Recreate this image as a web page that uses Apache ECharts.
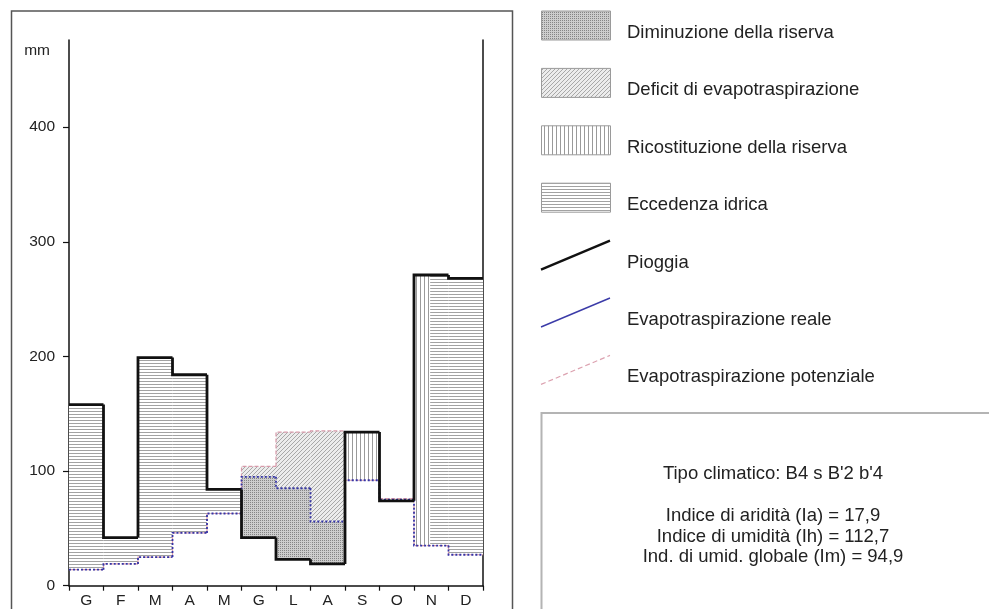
<!DOCTYPE html>
<html>
<head>
<meta charset="utf-8">
<script src="https://cdn.jsdelivr.net/npm/echarts@6/dist/echarts.min.js"></script>
<style>
  html, body { margin: 0; padding: 0; background: #fff; }
  #chart { width: 989px; height: 609px; }
</style>
</head>
<body>
<div id="chart"></div>
<script>
// Bilancio idrico mensile (mm)
const months = ['G', 'F', 'M', 'A', 'M', 'G', 'L', 'A', 'S', 'O', 'N', 'D'];
const pioggia = [158, 42, 199, 184, 84, 42, 23, 19, 134, 74, 271, 268];
const evapReale = [14, 19, 25, 46, 63, 95, 85, 56, 92, 75, 35, 27];
const evapPotenziale = [14, 19, 25, 46, 63, 104, 134, 135, 92, 76, 35, 27];
const ricostituzione = [0, 0, 0, 0, 0, 0, 0, 0, 42, 0, 110, 0];
const yTicks = [0, 100, 200, 300, 400];

const legendAree = ['Diminuzione della riserva', 'Deficit di evapotraspirazione',
                    'Ricostituzione della riserva', 'Eccedenza idrica'];
const legendLinee = ['Pioggia', 'Evapotraspirazione reale', 'Evapotraspirazione potenziale'];
const tipoClimatico = "Tipo climatico: B4 s B'2 b'4";
const indici = ['Indice di aridità (Ia) = 17,9',
                'Indice di umidità (Ih) = 112,7',
                'Ind. di umid. globale (Im) = 94,9'];

const FONT = '"Liberation Sans", Arial, sans-serif';
const TXT = '18.5px ' + FONT;

// hatch tiles
function tile(w, h, draw) {
  const c = document.createElement('canvas');
  c.width = w; c.height = h;
  draw(c.getContext('2d'));
  return { image: c, repeat: 'repeat' };
}
const patDiminuzione = tile(2, 2, g => {
  g.fillStyle = '#cdcdcd'; g.fillRect(0, 0, 2, 2);
  g.fillStyle = '#858585'; g.fillRect(0, 0, 1, 1);
});
const patDeficit = tile(4, 4, g => {
  g.fillStyle = '#ececec'; g.fillRect(0, 0, 4, 4);
  g.fillStyle = '#a8a8a8';
  g.fillRect(0, 3, 1, 1); g.fillRect(1, 2, 1, 1); g.fillRect(2, 1, 1, 1); g.fillRect(3, 0, 1, 1);
});
const patRicostituzione = tile(4, 4, g => {
  g.fillStyle = '#ffffff'; g.fillRect(0, 0, 4, 4);
  g.fillStyle = '#9a9a9a'; g.fillRect(0, 0, 1, 4);
});
const patEccedenza = tile(4, 3, g => {
  g.fillStyle = '#ffffff'; g.fillRect(0, 0, 4, 3);
  g.fillStyle = '#a2a2a2'; g.fillRect(0, 0, 4, 1);
});

// band items: [monthIndex, low, high, fractionStart, fractionEnd]
const bandDiminuzione = [], bandDeficit = [], bandRicostituzione = [], bandEccedenza = [];
months.forEach((m, i) => {
  const p = pioggia[i], er = evapReale[i], ep = evapPotenziale[i];
  if (er > p) bandDiminuzione.push([i, p, er, 0, 1]);
  if (ep > er) bandDeficit.push([i, er, ep, 0, 1]);
  if (p > er) {
    const f = Math.min(1, ricostituzione[i] / (p - er));
    if (f > 0) bandRicostituzione.push([i, er, p, 0, f]);
    if (f < 1) bandEccedenza.push([i, er, p, f, 1]);
  }
});

function bandRender(fill) {
  return function (params, api) {
    const i = api.value(0);
    const bw = api.size([1, 0])[0];
    const lo = api.coord([i, api.value(1)]);
    const hi = api.coord([i, api.value(2)]);
    const left = lo[0] - bw / 2;
    return {
      type: 'rect',
      shape: { x: left + bw * api.value(3), y: hi[1],
               width: bw * (api.value(4) - api.value(3)), height: lo[1] - hi[1] },
      style: { fill: fill }
    };
  };
}

function stepRender(values, style) {
  return function (params, api) {
    const i = api.value(0);
    const bw = api.size([1, 0])[0];
    const p = api.coord([i, api.value(1)]);
    const left = p[0] - bw / 2, right = p[0] + bw / 2;
    const pts = [];
    if (i > 0) pts.push([left, api.coord([i, values[i - 1]])[1]]);
    pts.push([left, p[1]], [right, p[1]]);
    return { type: 'polyline', shape: { points: pts }, style: Object.assign({ fill: null }, style) };
  };
}

function bandSeries(name, data, fill) {
  return { type: 'custom', name: name, data: data, renderItem: bandRender(fill),
           encode: { x: 0, y: [1, 2] }, silent: true };
}
function stepSeries(name, values, style) {
  return { type: 'custom', name: name, data: values.map((v, i) => [i, v]),
           renderItem: stepRender(values, style), encode: { x: 0, y: 1 }, silent: true };
}

// legend and index box
const graphics = [];
graphics.push({ type: 'rect', shape: { x: 11.5, y: 11, width: 501, height: 620 },
                style: { fill: null, stroke: '#555', lineWidth: 1.5 }, z: 10 });
const areaFills = [patDiminuzione, patDeficit, patRicostituzione, patEccedenza];
const rowY = k => 33 + 57.4 * k;
legendAree.forEach((t, k) => {
  graphics.push({ type: 'rect', shape: { x: 541.5, y: rowY(k) - 22, width: 69, height: 29 },
                  style: { fill: areaFills[k], stroke: '#9a9a9a', lineWidth: 1 } });
  graphics.push({ type: 'text', x: 627, y: rowY(k),
                  style: { text: t, fill: '#222', font: TXT, textVerticalAlign: 'middle' } });
});
const lineStyles = [
  { stroke: '#111', lineWidth: 2.4 },
  { stroke: '#3b3ba8', lineWidth: 1.4 },
  { stroke: '#dca2b0', lineWidth: 1.2, lineDash: [5, 3] }
];
legendLinee.forEach((t, k) => {
  const y = rowY(k + 4);
  graphics.push({ type: 'line', shape: { x1: 541, y1: y + 7, x2: 610, y2: y - 22 },
                  style: lineStyles[k] });
  graphics.push({ type: 'text', x: 627, y: y,
                  style: { text: t, fill: '#222', font: TXT, textVerticalAlign: 'middle' } });
});
graphics.push({ type: 'rect', shape: { x: 541.5, y: 413, width: 460, height: 220 },
                style: { fill: null, stroke: '#b4b4b4', lineWidth: 2 } });
graphics.push({ type: 'text', x: 773, y: 474,
                style: { text: tipoClimatico, fill: '#222', font: TXT,
                         textAlign: 'center', textVerticalAlign: 'middle' } });
indici.forEach((t, k) => {
  graphics.push({ type: 'text', x: 773, y: 516 + 20.5 * k,
                  style: { text: t, fill: '#222', font: TXT,
                           textAlign: 'center', textVerticalAlign: 'middle' } });
});

const chart = echarts.init(document.getElementById('chart'), null, { renderer: 'canvas' });
chart.setOption({
  animation: false,
  backgroundColor: '#fff',
  textStyle: { fontFamily: FONT },
  grid: { left: 69, right: 506, top: 40, bottom: 23.3, containLabel: false },
  xAxis: {
    type: 'category',
    data: months,
    boundaryGap: true,
    axisLine: { show: true, lineStyle: { color: '#111', width: 1.5 } },
    axisTick: { show: true, interval: 0, length: 5, lineStyle: { color: '#111', width: 1.2 } },
    axisLabel: { interval: 0, color: '#222', fontSize: 15.5, fontFamily: FONT, margin: 7 },
    splitLine: { show: false }
  },
  yAxis: [{
    type: 'value',
    min: 0,
    max: 476,
    name: 'mm',
    nameLocation: 'end',
    nameGap: -11,
    nameTextStyle: { color: '#222', fontSize: 15.5, fontFamily: FONT, align: 'right',
                     verticalAlign: 'middle', padding: [0, 19, 0, 0] },
    axisLine: { show: true, lineStyle: { color: '#111', width: 1.5 } },
    axisTick: { show: true, length: 6, customValues: yTicks, lineStyle: { color: '#111', width: 1.2 } },
    axisLabel: { customValues: yTicks, color: '#222', fontSize: 15.5, fontFamily: FONT, margin: 14 },
    splitLine: { show: false }
  }, {
    type: 'value',
    position: 'right',
    min: 0,
    max: 476,
    axisLine: { show: true, lineStyle: { color: '#111', width: 1.5 } },
    axisTick: { show: false },
    axisLabel: { show: false },
    splitLine: { show: false }
  }],
  series: [
    bandSeries('Eccedenza idrica', bandEccedenza, patEccedenza),
    bandSeries('Ricostituzione della riserva', bandRicostituzione, patRicostituzione),
    bandSeries('Deficit di evapotraspirazione', bandDeficit, patDeficit),
    bandSeries('Diminuzione della riserva', bandDiminuzione, patDiminuzione),
    stepSeries('Evapotraspirazione potenziale', evapPotenziale,
               { stroke: '#d89aaa', lineWidth: 1.2, lineDash: [4, 2] }),
    stepSeries('Evapotraspirazione reale', evapReale,
               { stroke: '#3434a6', lineWidth: 1.8, lineDash: [2, 2] }),
    stepSeries('Pioggia', pioggia, { stroke: '#111', lineWidth: 2.8, lineJoin: 'miter' })
  ],
  graphic: graphics
});
</script>
</body>
</html>
